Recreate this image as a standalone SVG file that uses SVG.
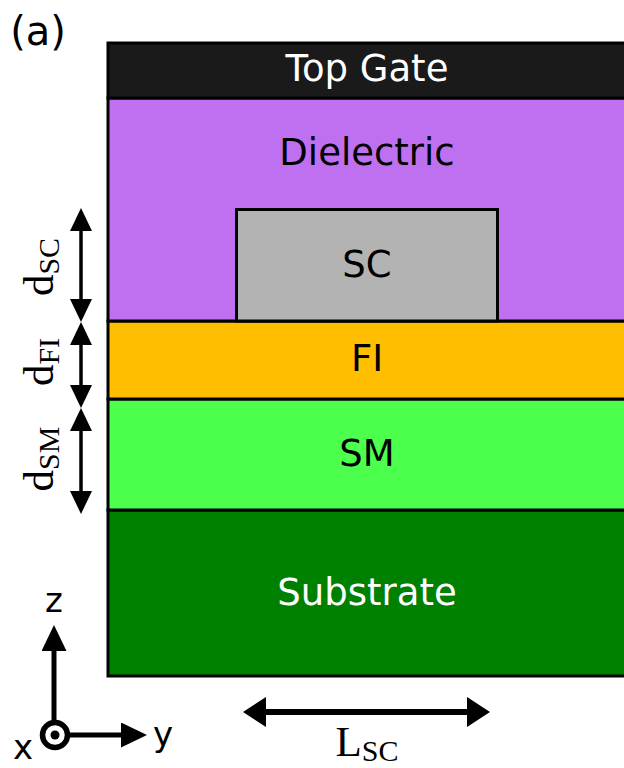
<svg xmlns="http://www.w3.org/2000/svg" width="624" height="768" viewBox="0 0 624 768">
<defs>
<marker id="ahd" viewBox="0 0 23 22" refX="12" refY="11" markerWidth="23" markerHeight="22" orient="auto-start-reverse" markerUnits="userSpaceOnUse"><path d="M0,0 L23,11 L0,22 Z" fill="#000"/></marker>
<marker id="ahl" viewBox="0 0 23 30" refX="12" refY="15" markerWidth="23" markerHeight="30" orient="auto-start-reverse" markerUnits="userSpaceOnUse"><path d="M0,0 L23,15 L0,30 Z" fill="#000"/></marker>
<marker id="aha" viewBox="0 0 26 25" refX="13" refY="12.5" markerWidth="26" markerHeight="25" orient="auto" markerUnits="userSpaceOnUse"><path d="M0,0 L26,12.5 L0,25 Z" fill="#000"/></marker>
</defs>
<style>
.layer{stroke:#000;stroke-width:3}
.lbl{font-family:"DejaVu Sans","Liberation Sans",sans-serif;font-size:37px;text-anchor:middle;dominant-baseline:central}
.dim{stroke:#000;stroke-width:3.5;fill:none}
.math{font-family:"Liberation Serif","DejaVu Serif",serif;font-size:43px}
.sub{font-size:30px}
.ax{font-family:"DejaVu Sans","Liberation Sans",sans-serif;font-size:34px;text-anchor:middle}
</style>
<rect width="624" height="768" fill="#fff"/>
<g id="substrate"><rect class="layer" x="108" y="510" width="520" height="166" fill="#008000"/><text class="lbl" x="367" y="592" fill="#fff">Substrate</text></g>
<g id="sm"><rect class="layer" x="108" y="399" width="520" height="111" fill="#4dff4d"/><text class="lbl" x="367" y="453" fill="#000">SM</text></g>
<g id="fi"><rect class="layer" x="108" y="321" width="520" height="78" fill="#ffbf00"/><text class="lbl" x="367" y="358" fill="#000">FI</text></g>
<g id="dielectric"><rect class="layer" x="108" y="98" width="520" height="223" fill="#bf70f0"/><text class="lbl" x="367" y="152" fill="#000">Dielectric</text></g>
<g id="sc"><rect class="layer" x="236.5" y="209.5" width="261" height="111.5" fill="#b3b3b3"/><text class="lbl" x="367" y="264" fill="#000">SC</text></g>
<g id="topgate"><rect class="layer" x="108" y="43" width="520" height="55" fill="#1a1a1a"/><text class="lbl" x="367" y="68" fill="#fff">Top Gate</text></g>
<text x="38" y="45" font-family="DejaVu Sans,sans-serif" font-size="40" text-anchor="middle">(a)</text>
<g id="connectors">
<line class="dim" x1="81" y1="219" x2="81" y2="311" marker-start="url(#ahd)" marker-end="url(#ahd)"/>
<line class="dim" x1="81" y1="333" x2="81" y2="397" marker-start="url(#ahd)" marker-end="url(#ahd)"/>
<line class="dim" x1="81" y1="419" x2="81" y2="503" marker-start="url(#ahd)" marker-end="url(#ahd)"/>
<line x1="254" y1="712" x2="479" y2="712" stroke="#000" stroke-width="6" marker-start="url(#ahl)" marker-end="url(#ahl)"/>
<line x1="54" y1="726" x2="54" y2="638" stroke="#000" stroke-width="5" marker-end="url(#aha)"/>
<line x1="66" y1="735" x2="134" y2="735" stroke="#000" stroke-width="5" marker-end="url(#aha)"/>
<circle cx="55" cy="735" r="12.5" fill="#fff" stroke="#000" stroke-width="5.5"/>
<circle cx="55" cy="735" r="4.5" fill="#000"/>
</g>
<g id="labels">
<text class="math" transform="translate(53,267) rotate(-90)" text-anchor="middle">d<tspan class="sub" dy="6">SC</tspan></text>
<text class="math" transform="translate(53,362) rotate(-90)" text-anchor="middle">d<tspan class="sub" dy="6">FI</tspan></text>
<text class="math" transform="translate(53,459) rotate(-90)" text-anchor="middle">d<tspan class="sub" dy="6">SM</tspan></text>
<text class="math" x="367" y="756" text-anchor="middle">L<tspan class="sub" dy="5">SC</tspan></text>
<text class="ax" x="54" y="612">z</text>
<text class="ax" x="163" y="746">y</text>
<text class="ax" x="23" y="759">x</text>
</g>
</svg>
